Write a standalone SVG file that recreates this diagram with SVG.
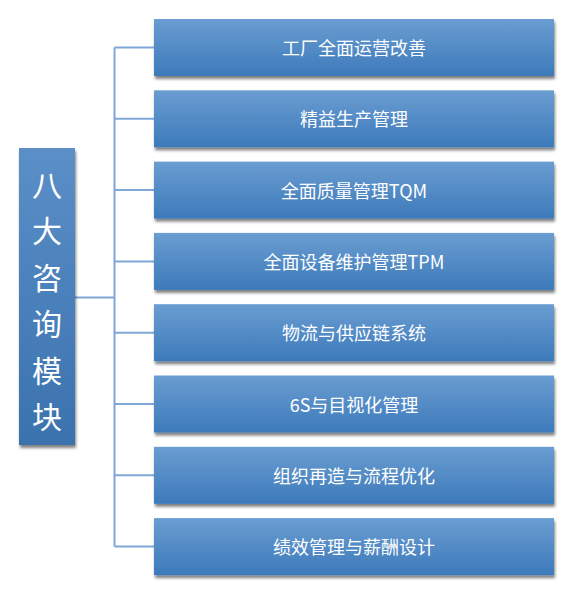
<svg xmlns="http://www.w3.org/2000/svg" width="572" height="593" viewBox="0 0 572 593">
<defs>
<linearGradient id="g" x1="0" y1="0" x2="0" y2="1">
<stop offset="0" stop-color="#6a9dd1"/>
<stop offset="1" stop-color="#3d7abb"/>
</linearGradient>
<linearGradient id="gl" x1="0" y1="0" x2="0" y2="1">
<stop offset="0" stop-color="#5b8fc8"/>
<stop offset="1" stop-color="#3a72ae"/>
</linearGradient>
<filter id="sh" x="-10%" y="-20%" width="125%" height="150%">
<feGaussianBlur in="SourceAlpha" stdDeviation="1.8"/>
<feOffset dx="1" dy="3" result="b"/>
<feComponentTransfer><feFuncA type="linear" slope="0.5"/></feComponentTransfer>
<feMerge><feMergeNode/><feMergeNode in="SourceGraphic"/></feMerge>
</filter>
</defs>
<style>
.box{fill:url(#g);filter:url(#sh)}
.t{font-family:"Noto Sans CJK SC","Noto Sans",sans-serif;font-size:18px;fill:#ffffff;text-anchor:middle;dominant-baseline:central}
.lt{font-family:"Noto Sans CJK SC",sans-serif;font-size:30px;fill:#ffffff;text-anchor:middle;dominant-baseline:central}
.ln{stroke:#7fa8d8;stroke-width:2;fill:none}
</style>
<g id="connectors">
<path class="ln" d="M75 297.5H114.5M114.5 47.5V546.6M114.5 47.5H154M114.5 118.8H154M114.5 190.1H154M114.5 261.4H154M114.5 332.7H154M114.5 404H154M114.5 475.3H154M114.5 546.6H154"/>
</g>
<g id="root">
<rect x="19" y="148" width="56" height="297" fill="url(#gl)" filter="url(#sh)"/>
<text class="lt" x="47" y="183">八</text>
<text class="lt" x="47" y="229">大</text>
<text class="lt" x="47" y="276">咨</text>
<text class="lt" x="47" y="322">询</text>
<text class="lt" x="47" y="369">模</text>
<text class="lt" x="47" y="415">块</text>
</g>
<g id="n1"><rect class="box" x="154" y="19" width="400" height="57"/><text class="t" x="354" y="47">工厂全面运营改善</text></g>
<g id="n2"><rect class="box" x="154" y="90.3" width="400" height="57"/><text class="t" x="354" y="118.3">精益生产管理</text></g>
<g id="n3"><rect class="box" x="154" y="161.6" width="400" height="57"/><text class="t" x="354" y="189.6">全面质量管理TQM</text></g>
<g id="n4"><rect class="box" x="154" y="232.9" width="400" height="57"/><text class="t" x="354" y="260.9">全面设备维护管理TPM</text></g>
<g id="n5"><rect class="box" x="154" y="304.2" width="400" height="57"/><text class="t" x="354" y="332.2">物流与供应链系统</text></g>
<g id="n6"><rect class="box" x="154" y="375.5" width="400" height="57"/><text class="t" x="354" y="403.5">6S与目视化管理</text></g>
<g id="n7"><rect class="box" x="154" y="446.8" width="400" height="57"/><text class="t" x="354" y="474.8">组织再造与流程优化</text></g>
<g id="n8"><rect class="box" x="154" y="518.1" width="400" height="57"/><text class="t" x="354" y="546.1">绩效管理与薪酬设计</text></g>
</svg>
